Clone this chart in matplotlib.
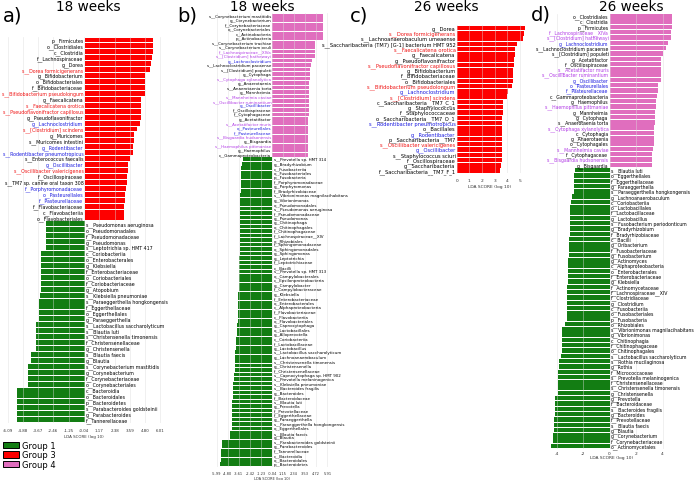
import numpy as np
import matplotlib.pyplot as plt
from matplotlib.patches import Patch

W, H = 696, 481

GREEN = '#137d13'
RED = '#fe0000'
PINK = '#e06ebe'

# ---- panel a: 18 weeks, Group 3 vs Group 1 ----
a_labels = [
    "p__Firmicutes", "o__Clostridiales", "c__Clostridia", "f__Lachnospiraceae", "g__Dorea",
    "s__Dorea formicigenerans", "g__Bifidobacterium", "o__Bifidobacteriales", "f__Bifidobacteriaceae",
    "s__Bifidobacterium pseudolongum", "g__Faecalicatena", "s__Faecalicatena orotica",
    "s__Pseudoflavonifractor capillosus", "g__Pseudoflavonifractor", "g__Lachnoclostridium",
    "s__[Clostridium] scindens", "g__Muricomes", "s__Muricomes intestini", "g__Rodentibacter",
    "s__Rodentibacter pneumotropicus", "s__Enterococcus faecalis", "g__Oscillibacter",
    "s__Oscillibacter valericigenes", "f__Oscillospiraceae", "s__TM7 sp. canine oral taxon 308",
    "f__Porphyromonadaceae", "o__Pasteurellales", "f__Pasteurellaceae", "f__Flavobacteriaceae",
    "c__Flavobacteriia", "o__Flavobacteriales",
    "s__Pseudomonas aeruginosa", "o__Pseudomonadales", "f__Pseudomonadaceae", "g__Pseudomonas",
    "s__Leptotrichia sp. HMT 417", "c__Coriobacteriia", "o__Enterobacterales", "g__Klebsiella",
    "f__Enterobacteriaceae", "o__Coriobacteriales", "f__Coriobacteriaceae", "g__Atopobium",
    "s__Klebsiella pneumoniae", "s__Paraeggerthella hongkongensis", "f__Eggerthellaceae",
    "o__Eggerthellales", "g__Paraeggerthella", "s__Lactobacillus saccharolyticum", "s__Blautia luti",
    "s__Christensenella timonensis", "f__Christensenellaceae", "g__Christensenella",
    "s__Blautia faecis", "g__Blautia", "s__Corynebacterium mastitidis", "g__Corynebacterium",
    "f__Corynebacteriaceae", "o__Corynebacteriales", "c__Bacteroidia", "o__Bacteroidales",
    "p__Bacteroidetes", "s__Parabacteroides goldsteinii", "g__Parabacteroides", "f__Tannerellaceae",
]
a_lda = [
    5.40, 5.40, 5.40, 5.32, 5.24, 5.18, 4.79, 4.79, 4.79, 4.76, 4.47, 4.47, 4.45, 4.45, 4.39,
    4.15, 3.92, 3.92, 3.86, 3.86, 3.60, 3.42, 3.42, 3.39, 3.39, 3.26, 3.21, 3.21, 3.16, 3.16, 3.16,
    -3.04, -3.04, -3.04, -3.04, -3.04, -3.42, -3.42, -3.42, -3.42, -3.42, -3.42, -3.42,
    -3.50, -3.58, -3.58, -3.58, -3.58, -3.81, -3.84, -3.86, -3.86, -3.86,
    -4.23, -4.23, -4.49, -4.50, -4.50, -4.50, -5.36, -5.36, -5.36, -5.36, -5.36, -5.36,
]
a_ticks = [-6.09, -4.88, -3.67, -2.46, -1.25, -0.04, 1.17, 2.38, 3.59, 4.80, 6.01]

# ---- panel b: 18 weeks, Group 4 vs Group 1 ----
b_labels = [
    "s__Corynebacterium mastitidis", "g__Corynebacterium", "f__Corynebacteriaceae",
    "o__Corynebacteriales", "c__Actinobacteria", "p__Actinobacteria", "s__Corynebacterium trachiae",
    "s__Corynebacterium oculi", "f__Lachnospiraceae__XIVa", "s__[Clostridium] hathewayi",
    "g__Lachnoclostridium", "s__Lachnoclostridium pacaense", "s__[Clostridium] populeti",
    "g__Cytophaga", "s__Cytophaga xylanolytica", "g__Anaerotaenia", "s__Anaerotaenia torta",
    "g__Mannheimia", "s__Mannheimia caviae", "s__Oscillibacter ruminantium", "g__Oscillibacter",
    "f__Oscillospiraceae", "f__Cytophagaceae", "g__Acetatifactor", "s__Acetatifactor muris",
    "o__Pasteurellales", "f__Pasteurellaceae", "s__Bisgaardia hudsonensis", "g__Bisgaardia",
    "s__Haemophilus pittmaniae", "g__Haemophilus", "c__Gammaproteobacteria",
    "s__Prevotella sp. HMT 314", "g__Bradyrhizobium", "c__Fusobacteriia", "o__Fusobacteriales",
    "p__Fusobacteria", "f__Porphyromonadaceae", "g__Porphyromonas", "f__Bradyrhizobiaceae",
    "s__Vibrionimonas magnilacihabitans", "g__Vibrionimonas", "o__Pseudomonadales",
    "s__Pseudomonas aeruginosa", "f__Pseudomonadaceae", "g__Pseudomonas", "g__Chitinophaga",
    "o__Chitinophagales", "f__Chitinophagaceae", "f__Lachnospiraceae__XIV", "o__Rhizobiales",
    "f__Sphingomonadaceae", "o__Sphingomonadales", "g__Sphingomonas", "g__Leptotrichia",
    "f__Leptotrichiaceae", "c__Bacilli", "s__Prevotella sp. HMT 313", "o__Campylobacterales",
    "c__Epsilonproteobacteria", "g__Campylobacter", "f__Campylobacteraceae", "g__Klebsiella",
    "f__Enterobacteriaceae", "o__Enterobacterales", "c__Alphaproteobacteria", "f__Flavobacteriaceae",
    "c__Flavobacteriia", "o__Flavobacteriales", "g__Capnocytophaga", "o__Lactobacillales",
    "g__Alloprevotella", "c__Coriobacteriia", "f__Lactobacillaceae", "g__Lactobacillus",
    "s__Lactobacillus saccharolyticum", "g__Lachnoanaerobaculum", "s__Christensenella timonensis",
    "g__Christensenella", "f__Christensenellaceae", "s__Capnocytophaga sp. HMT 902",
    "s__Prevotella melaninogenica", "s__Klebsiella pneumoniae", "s__Bacteroides fragilis",
    "g__Bacteroides", "f__Bacteroidaceae", "s__Blautia luti", "g__Prevotella", "f__Prevotellaceae",
    "f__Eggerthellaceae", "g__Paraeggerthella", "s__Paraeggerthella hongkongensis",
    "o__Eggerthellales", "s__Blautia faecis", "g__Blautia", "s__Parabacteroides goldsteinii",
    "g__Parabacteroides", "f__Tannerellaceae", "c__Bacteroidia", "o__Bacteroidales", "p__Bacteroidetes",
]
b_lda = [
    5.48, 5.48, 5.48, 5.48, 5.46, 5.46, 4.59, 4.59, 4.59, 4.59, 4.23, 4.16, 4.05, 4.02, 4.00,
    3.98, 3.98, 3.96, 3.95, 3.93, 3.93, 3.90, 3.90, 3.88, 3.88, 3.84, 3.84, 3.84, 3.82, 3.82,
    3.80, 3.80,
    -3.20, -3.22, -3.35, -3.35, -3.36, -3.38, -3.38, -3.42, -3.44, -3.44, -3.46, -3.46, -3.46,
    -3.46, -3.48, -3.48, -3.48, -3.50, -3.53, -3.53, -3.53, -3.53, -3.55, -3.55, -3.57, -3.60,
    -3.62, -3.62, -3.62, -3.62, -3.68, -3.68, -3.68, -3.70, -3.72, -3.72, -3.72, -3.78, -3.82,
    -3.86, -3.90, -3.92, -3.95, -3.98, -4.00, -4.03, -4.05, -4.07, -4.12, -4.15, -4.20, -4.25,
    -4.27, -4.27, -4.30, -4.33, -4.33, -4.35, -4.36, -4.36, -4.37, -4.55, -4.56, -5.46, -5.47,
    -5.50, -5.57, -5.57, -5.60,
]
b_ticks = [-5.99, -4.80, -3.61, -2.42, -1.23, -0.04, 1.15, 2.34, 3.53, 4.72, 5.91]

# ---- panel c: 26 weeks, Group 3 only ----
c_labels = [
    "g__Dorea", "s__Dorea formicigenerans", "s__Lachnoanaerobaculum umeaense",
    "s__Saccharibacteria (TM7) [G-1] bacterium HMT 952", "s__Faecalicatena orotica",
    "g__Faecalicatena", "g__Pseudoflavonifractor", "s__Pseudoflavonifractor capillosus",
    "g__Bifidobacterium", "f__Bifidobacteriaceae", "o__Bifidobacteriales",
    "s__Bifidobacterium pseudolongum", "g__Lachnoclostridium", "s__[Clostridium] scindens",
    "c__Saccharibacteria__TM7_C_1", "g__Staphylococcus", "f__Staphylococcaceae",
    "o__Saccharibacteria__TM7_O_1", "s__Rodentibacter pneumotropicus", "o__Bacillales",
    "g__Rodentibacter", "p__Saccharibacteria__TM7", "s__Oscillibacter valericigenes",
    "g__Oscillibacter", "s__Staphylococcus sciuri", "f__Oscillospiraceae", "g__Saccharibacteria",
    "f__Saccharibacteria__TM7_F_1",
]
c_lda = [
    5.39, 5.32, 5.20, 4.79, 4.60, 4.60, 4.53, 4.53, 4.42, 4.42, 4.42, 4.39, 4.05, 3.97,
    3.68, 3.66, 3.66, 3.60, 3.60, 3.60, 3.60, 3.60, 3.60, 3.60, 3.55, 3.55, 3.50, 3.42,
]
c_ticks = [0, 1, 2, 3, 4, 5]

# ---- panel d: 26 weeks, Group 4 vs Group 1 ----
d_labels = [
    "o__Clostridiales", "c__Clostridia", "p__Firmicutes", "f__Lachnospiraceae__XIVa",
    "s__[Clostridium] hathewayi", "g__Lachnoclostridium", "s__Lachnoclostridium pacaense",
    "s__[Clostridium] populeti", "g__Acetatifactor", "f__Oscillospiraceae", "s__Acetatifactor muris",
    "s__Oscillibacter ruminantium", "g__Oscillibacter", "o__Pasteurellales", "f__Pasteurellaceae",
    "c__Gammaproteobacteria", "g__Haemophilus", "s__Haemophilus pittmaniae", "g__Mannheimia",
    "g__Cytophaga", "s__Anaerotaenia torta", "s__Cytophaga xylanolytica", "c__Cytophagia",
    "g__Anaerotaenia", "o__Cytophagales", "s__Mannheimia caviae", "f__Cytophagaceae",
    "s__Bisgaardia hudsonensis", "g__Bisgaardia",
    "s__Blautia luti", "o__Eggerthellales", "f__Eggerthellaceae", "g__Paraeggerthella",
    "s__Paraeggerthella hongkongensis", "g__Lachnoanaerobaculum", "c__Coriobacteriia",
    "o__Lactobacillales", "f__Lactobacillaceae", "g__Lactobacillus",
    "s__Fusobacterium periodonticum", "g__Bradyrhizobium", "f__Bradyrhizobiaceae", "c__Bacilli",
    "g__Oribacterium", "f__Fusobacteriaceae", "g__Fusobacterium", "g__Actinomyces",
    "c__Alphaproteobacteria", "o__Enterobacterales", "f__Enterobacteriaceae", "g__Klebsiella",
    "f__Actinomycetaceae", "f__Lachnospiraceae__XIV", "f__Clostridiaceae", "g__Clostridium",
    "c__Fusobacteriia", "o__Fusobacteriales", "p__Fusobacteria", "o__Rhizobiales",
    "s__Vibrionimonas magnilacihabitans", "g__Vibrionimonas", "c__Chitinophagia",
    "f__Chitinophagaceae", "o__Chitinophagales", "s__Lactobacillus saccharolyticum",
    "s__Rothia mucilaginosa", "g__Rothia", "f__Micrococcaceae", "s__Prevotella melaninogenica",
    "f__Christensenellaceae", "s__Christensenella timonensis", "g__Christensenella",
    "g__Prevotella", "f__Bacteroidaceae", "s__Bacteroides fragilis", "g__Bacteroides",
    "f__Prevotellaceae", "s__Blautia faecis", "g__Blautia", "g__Corynebacterium",
    "f__Corynebacteriaceae", "o__Actinomycetales",
]
d_lda = [
    4.72, 4.69, 4.69, 4.67, 4.64, 4.39, 4.26, 4.06, 3.91, 3.89, 3.87, 3.87, 3.86, 3.68, 3.68,
    3.61, 3.51, 3.51, 3.43, 3.41, 3.41, 3.38, 3.36, 3.36, 3.36, 3.26, 3.23, 3.18, 3.18,
    -2.60, -2.65, -2.65, -2.65, -2.65, -2.85, -2.90, -2.95, -2.95, -2.97, -2.97, -3.00, -3.00,
    -3.02, -3.05, -3.07, -3.07, -3.14, -3.14, -3.14, -3.14, -3.16, -3.19, -3.19, -3.21, -3.21,
    -3.24, -3.24, -3.24, -3.39, -3.60, -3.60, -3.60, -3.60, -3.60, -3.68, -3.78, -3.83, -3.88,
    -3.90, -3.90, -3.90, -3.90, -4.12, -4.14, -4.14, -4.14, -4.17, -4.17, -4.17, -4.27, -4.27,
    -4.40,
]
d_ticks = [-4, -2, 0, 2, 4]

# coloured feature names (only used on the enriched side)
blue_names = ["g__Lachnoclostridium", "g__Rodentibacter", "s__Rodentibacter pneumotropicus",
              "g__Oscillibacter", "f__Porphyromonadaceae", "o__Pasteurellales", "f__Pasteurellaceae"]
red_names = ["s__Dorea formicigenerans", "s__Bifidobacterium pseudolongum", "s__Faecalicatena orotica",
             "s__Pseudoflavonifractor capillosus", "s__[Clostridium] scindens",
             "s__Oscillibacter valericigenes"]
purple_names = ["f__Lachnospiraceae__XIVa", "s__[Clostridium] hathewayi", "s__Cytophaga xylanolytica",
                "s__Mannheimia caviae", "s__Oscillibacter ruminantium", "s__Acetatifactor muris",
                "s__Bisgaardia hudsonensis", "s__Haemophilus pittmaniae"]
name_color = {}
for n in blue_names:
    name_color[n] = '#1c1ce0'
for n in red_names:
    name_color[n] = '#f01414'
for n in purple_names:
    name_color[n] = '#b23ce6'

fig = plt.figure(figsize=(W / 100, H / 100), dpi=100)


def panel(labels, lda, pos_color, zero, ppu, ytop, ybot, xlim, ticks, fs, tick_fs, tick_pad, xl_pad):
    n = len(labels)
    row = (ybot - ytop) / (n - 1)
    left = zero + xlim[0] * ppu
    right = zero + xlim[1] * ppu
    top = ytop - 0.5 * row
    bottom = ybot + 0.5 * row
    ax = fig.add_axes([left / W, 1 - bottom / H, (right - left) / W, (bottom - top) / H])
    ax.patch.set_alpha(0)
    y = np.arange(n)
    cols = [pos_color if v > 0 else GREEN for v in lda]
    ax.barh(y, lda, height=0.84, color=cols, zorder=2)
    ax.set_ylim(n - 0.5, -0.5)
    ax.set_xlim(xlim)
    ax.set_yticks([])
    ax.set_xticks(ticks)
    ax.set_xticklabels([str(t) if isinstance(t, int) else f"{t:.2f}" for t in ticks])
    for s in ax.spines.values():
        s.set_visible(False)
    # light grid drawn over the bars, as in the original
    for t in ticks:
        ax.axvline(t, color='#dcdcdc', lw=0.5, alpha=0.6, zorder=3)
    ax.tick_params(axis='x', length=0, labelsize=tick_fs, pad=tick_pad, colors='#333333')
    ax.set_xlabel('LDA SCORE (log 10)', fontsize=tick_fs, labelpad=xl_pad, color='#333333')
    for yi, (lab, v) in enumerate(zip(labels, lda)):
        if v > 0:
            ax.annotate(lab, (0, yi), xytext=(-0.8, 0), textcoords='offset points', zorder=4,
                        ha='right', va='center', fontsize=fs, color=name_color.get(lab, 'black'))
        else:
            ax.annotate(lab, (0, yi), xytext=(0.8, 0), textcoords='offset points', zorder=4,
                        ha='left', va='center', fontsize=fs, color='black')
    return ax


panel(a_labels, a_lda, RED, 84.5, 12.64, 41, 420.7, (-6.3, 6.2), a_ticks, 3.45, 2.9, 3.5, 1.5)
panel(b_labels, b_lda, PINK, 272.4, 9.29, 16.7, 465.3, (-6.2, 6.1), b_ticks, 2.85, 2.6, 3.2, 0.5)
panel(c_labels, c_lda, RED, 456.7, 12.67, 29, 171.7, (-0.3, 5.45), c_ticks, 3.7, 3.2, 3.4, 1.5)
panel(d_labels, d_lda, PINK, 609.5, 13.25, 17.3, 447, (-4.7, 5.0), d_ticks, 3.33, 3.2, 1.4, 0.5)


def ftext(x, y, s, **kw):
    fig.text(x / W, 1 - y / H, s, **kw)


for letter, lx, ly in [("a)", 3, 16), ("b)", 177, 16), ("c)", 350, 16), ("d)", 531, 15)]:
    ftext(lx, ly, letter, fontsize=14, ha='left', va='center')
for title, tx in [("18 weeks", 88), ("18 weeks", 262), ("26 weeks", 446), ("26 weeks", 631)]:
    ftext(tx, 7, title, fontsize=9.8, ha='center', va='center')

handles = [Patch(facecolor=GREEN, edgecolor='black', lw=0.7, label='Group 1'),
           Patch(facecolor=RED, edgecolor='black', lw=0.7, label='Group 3'),
           Patch(facecolor=PINK, edgecolor='black', lw=0.7, label='Group 4')]
fig.legend(handles=handles, loc='upper left', bbox_to_anchor=(3 / W, 1 - 442 / H),
           frameon=False, fontsize=6, handlelength=1.9, handleheight=0.85,
           labelspacing=0.05, handletextpad=0.35, borderpad=0, borderaxespad=0)

fig.savefig('out.png', dpi=100)
